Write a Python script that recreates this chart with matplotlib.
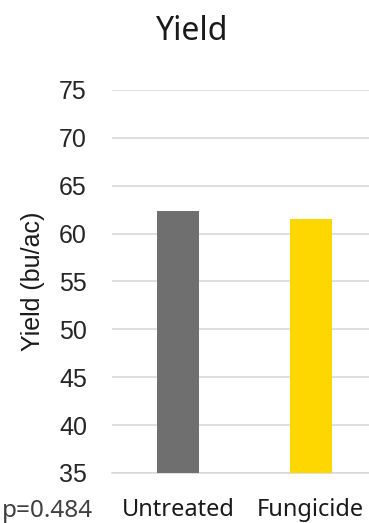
import matplotlib
matplotlib.use("Agg")
import matplotlib.pyplot as plt

categories = ["Untreated", "Fungicide"]
values = [62.4, 61.5]
colors = ["#6f6f6f", "#ffd700"]
yticks = [35, 40, 45, 50, 55, 60, 65, 70, 75]
title = "Yield"
ylabel = "Yield (bu/ac)"
pval = "p=0.484"

W, H = 369, 523
fig = plt.figure(figsize=(W / 100, H / 100), dpi=100)
left, right, top, bottom = 112, 377, 90, 473
ax = fig.add_axes([left / W, 1 - bottom / H, (right - left) / W, (bottom - top) / H])

x = list(range(len(categories)))
ax.bar(x, values, width=0.317, color=colors, zorder=3)
ax.set_xlim(-0.5, 1.5)
ax.set_ylim(35, 75)
ax.set_yticks(yticks)
ax.set_yticklabels([str(t) for t in yticks], fontfamily="Liberation Sans", fontsize=18, color="#262626")
ax.set_xticks(x)
ax.set_xticklabels(categories, fontfamily="Noto Sans", fontsize=17, color="#1a1a1a")
ax.tick_params(axis="y", length=0, pad=18)
ax.tick_params(axis="x", length=0, pad=18)
ax.grid(axis="y", color="#d9d9d9", linewidth=1.2, zorder=0)
for s in ["top", "right", "left"]:
    ax.spines[s].set_visible(False)
ax.spines["bottom"].set_color("#d9d9d9")
ax.spines["bottom"].set_linewidth(1.2)

fig.text(33 / W, 1 - 281 / H, ylabel, rotation=90, ha="center", va="center",
         fontfamily="Liberation Sans", fontsize=18, color="#1a1a1a")
fig.text(192 / W, 1 - 32 / H, title, ha="center", va="center",
         fontfamily="Noto Sans", fontsize=23, color="#1a1a1a")
fig.text(2 / W, 1 - 517 / H, pval, ha="left", va="baseline",
         fontfamily="Noto Sans", fontsize=17.5, color="#404040")

fig.savefig("out.png", dpi=100)
